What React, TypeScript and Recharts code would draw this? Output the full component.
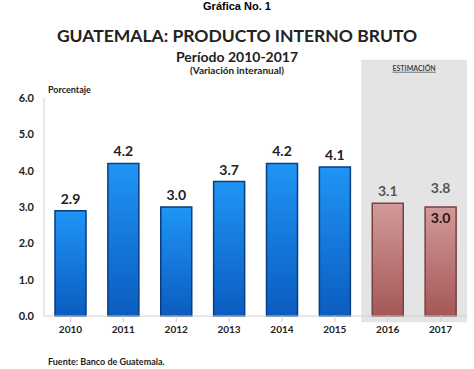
import { BarChart, Bar, XAxis, YAxis, Cell, LabelList, ReferenceArea } from "recharts";

const years = ["2010", "2011", "2012", "2013", "2014", "2015", "2016", "2017"];
const growth = [2.9, 4.2, 3.0, 3.7, 4.2, 4.1, 3.1, 3.0];
const upperEstimate = [null, null, null, null, null, null, null, 3.8];
const estimated = [false, false, false, false, false, false, true, true];
const yTicks = [0, 1, 2, 3, 4, 5, 6];

const data = years.map((year, i) => ({
  year,
  value: growth[i],
  upper: upperEstimate[i],
  est: estimated[i],
}));

const bold = { fontWeight: 700, fill: "#222" };

const ValueLabel = (props: any) => {
  const { x, y, width, index } = props;
  const d = data[index];
  const cx = x + width / 2;
  if (d.upper != null) {
    return (
      <g>
        <text x={cx} y={y - 14} textAnchor="middle" fontSize={14} fontWeight={700} fill="#555" fontFamily="Lato">
          {d.upper.toFixed(1)}
        </text>
        <text x={cx} y={y + 16} textAnchor="middle" fontSize={14} fontWeight={700} fill="#2a1414" fontFamily="Lato">
          {d.value.toFixed(1)}
        </text>
      </g>
    );
  }
  return (
    <text x={cx} y={y - 7} textAnchor="middle" fontSize={14} fontWeight={700} fill={d.est ? "#555" : "#222"} fontFamily="Lato">
      {d.value.toFixed(1)}
    </text>
  );
};

export default function App() {
  return (
    <div style={{ position: "absolute", left: 0, top: 0, width: 474, height: 369, background: "#fff", fontFamily: "Lato" }}>
      <div style={{ position: "absolute", top: 0, width: 474, textAlign: "center", fontFamily: "Liberation Sans", fontWeight: 700, fontSize: 11, lineHeight: "12px" }}>
        Gráfica No. 1
      </div>
      <div style={{ position: "absolute", top: 25, width: 474, textAlign: "center", fontWeight: 700, fontSize: 17.5, color: "#222" }}>
        GUATEMALA: PRODUCTO INTERNO BRUTO
      </div>
      <div style={{ position: "absolute", top: 48, width: 474, textAlign: "center", fontWeight: 700, fontSize: 14, color: "#222" }}>
        Período 2010-2017
      </div>
      <div style={{ position: "absolute", top: 64, width: 474, textAlign: "center", fontWeight: 700, fontSize: 10, color: "#222" }}>
        (Variación interanual)
      </div>
      <BarChart width={474} height={369} data={data} margin={{ top: 98, right: 7, bottom: 23, left: 0 }} barCategoryGap={11}>
        <defs>
          <linearGradient id="blueBar" x1="0" y1="0" x2="0" y2="1">
            <stop offset="0%" stopColor="#1f95f5" />
            <stop offset="100%" stopColor="#0b5cc0" />
          </linearGradient>
          <linearGradient id="redBar" x1="0" y1="0" x2="0" y2="1">
            <stop offset="0%" stopColor="#d29a9a" />
            <stop offset="100%" stopColor="#a55757" />
          </linearGradient>
        </defs>
        <ReferenceArea
          x1="2016"
          x2="2017"
          y1={-0.17}
          y2={7.05}
          ifOverflow="visible"
          fill="#e4e4e4"
          fillOpacity={1}
          stroke="none"
          label={{ value: "ESTIMACIÓN", position: "insideTop", offset: 6, fontSize: 7, fontWeight: 700, fill: "#444", textDecoration: "underline" }}
        />
        <XAxis
          dataKey="year"
          height={30}
          stroke="#d0d0d0"
          tickLine={{ stroke: "#d0d0d0" }}
          tick={{ ...bold, fontSize: 10, fontFamily: "Lato" }}
          tickMargin={4}
        />
        <YAxis
          width={44}
          domain={[0, 6]}
          ticks={yTicks}
          stroke="#d0d0d0"
          tickLine={false}
          tickFormatter={(v: number) => v.toFixed(1)}
          tick={{ ...bold, fontSize: 11, fontFamily: "Lato" }}
          tickMargin={4}
        />
        <Bar dataKey="value" isAnimationActive={false} strokeWidth={1.5}>
          {data.map((d) => (
            <Cell key={d.year} fill={d.est ? "url(#redBar)" : "url(#blueBar)"} stroke={d.est ? "#7a3f3f" : "#0a3d7d"} />
          ))}
          <LabelList dataKey="value" content={ValueLabel} />
        </Bar>
      </BarChart>
      <div style={{ position: "absolute", left: 48, top: 84, fontWeight: 700, fontSize: 9, color: "#222" }}>Porcentaje</div>
      <div style={{ position: "absolute", left: 48, top: 356, fontWeight: 700, fontSize: 9, color: "#222" }}>Fuente: Banco de Guatemala.</div>
    </div>
  );
}
